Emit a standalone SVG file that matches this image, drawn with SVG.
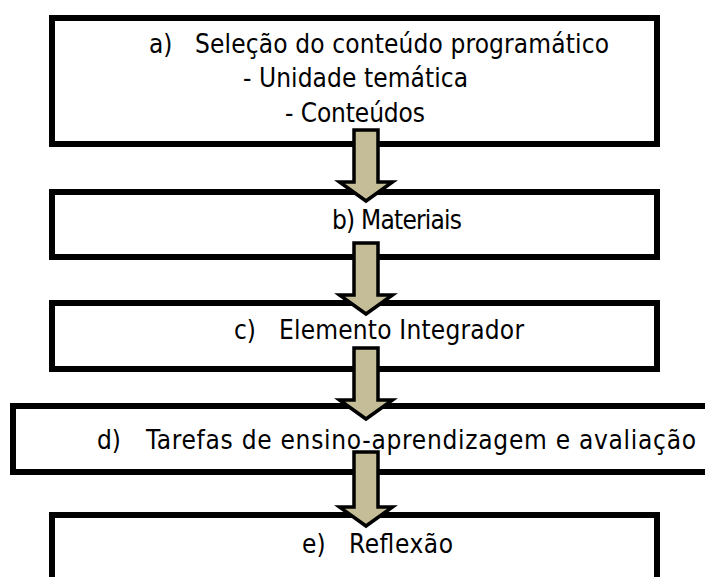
<svg xmlns="http://www.w3.org/2000/svg" width="705" height="577" viewBox="0 0 705 577">
  <style>
    .box { fill: #ffffff; stroke: #000000; stroke-width: 6; }
    .arrow { fill: #c4bd97; stroke: #000000; stroke-width: 3.5; stroke-linejoin: miter; }
    .t { font-family: "DejaVu Sans Condensed", "DejaVu Sans", sans-serif; font-stretch: condensed; font-size: 26px; fill: #000000; }
  </style>
  <rect width="705" height="577" fill="#ffffff"/>
  <g id="node-a">
    <rect class="box" x="52" y="18" width="605" height="126"/>
    <text class="t" x="149" y="53">a)</text>
    <text class="t" x="195" y="53" textLength="414" lengthAdjust="spacing">Seleção do conteúdo programático</text>
    <text class="t" x="243" y="87" textLength="225" lengthAdjust="spacing">- Unidade temática</text>
    <text class="t" x="285" y="122" textLength="140" lengthAdjust="spacing">- Conteúdos</text>
  </g>
  <g id="node-b">
    <rect class="box" x="52" y="192" width="605" height="65"/>
    <text class="t" x="332" y="229" textLength="130" lengthAdjust="spacing">b) Materiais</text>
  </g>
  <g id="node-c">
    <rect class="box" x="52" y="303" width="605" height="66"/>
    <text class="t" x="234" y="339">c)</text>
    <text class="t" x="279" y="339" textLength="245" lengthAdjust="spacing">Elemento Integrador</text>
  </g>
  <g id="node-d">
    <rect class="box" x="13" y="406" width="720" height="66"/>
    <text class="t" x="97" y="449">d)</text>
    <text class="t" x="146" y="449" textLength="550" lengthAdjust="spacing">Tarefas de ensino-aprendizagem e avaliação</text>
  </g>
  <g id="node-e">
    <rect class="box" x="52" y="515" width="605" height="90"/>
    <text class="t" x="302" y="553">e)</text>
    <text class="t" x="349" y="553" textLength="104" lengthAdjust="spacing">Reflexão</text>
  </g>
  <g id="connectors">
    <path class="arrow" d="M354,130 H378 V182 H392.5 L366,201 L339.5,182 H354 Z"/>
    <path class="arrow" d="M354,243 H378 V295 H392.5 L366,314 L339.5,295 H354 Z"/>
    <path class="arrow" d="M354,348 H378 V400 H392.5 L366,419 L339.5,400 H354 Z"/>
    <path class="arrow" d="M354,452 H378 V507 H392.5 L366,526 L339.5,507 H354 Z"/>
  </g>
</svg>
